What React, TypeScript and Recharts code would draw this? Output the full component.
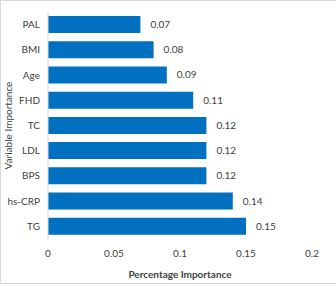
import React from "react";
import { BarChart, Bar, XAxis, YAxis, LabelList, Label } from "recharts";

const categories = ["PAL", "BMI", "Age", "FHD", "TC", "LDL", "BPS", "hs-CRP", "TG"];
const importance = [0.07, 0.08, 0.09, 0.11, 0.12, 0.12, 0.12, 0.14, 0.15];
const xTicks = [0, 0.05, 0.1, 0.15, 0.2];

const data = categories.map((name, i) => ({ name, value: importance[i] }));

const FONT = "Lato, 'Open Sans', sans-serif";
const TXT = "#404040";

export default function App() {
  return (
    <div
      style={{
        position: "absolute",
        left: 0,
        top: 0,
        width: 336,
        height: 284,
        boxSizing: "border-box",
        borderTop: "1px solid #d9d9d9",
        borderLeft: "1px solid #d9d9d9",
        borderBottom: "1px solid #d9d9d9",
        background: "#fff",
        fontFamily: FONT,
      }}
    >
      <BarChart
        width={335}
        height={282}
        data={data}
        layout="vertical"
        margin={{ top: 11, right: 24, bottom: 0, left: 0 }}
        barSize={17}
      >
        <XAxis
          type="number"
          domain={[0, 0.2]}
          ticks={xTicks}
          axisLine={false}
          tickLine={false}
          tickMargin={5}
          height={44}
          tick={{ fontSize: 10, fill: TXT, fontFamily: FONT }}
        >
          <Label
            value="Percentage Importance"
            position="insideBottom"
            offset={5}
            style={{ fontSize: 10, fontWeight: "bold", fill: TXT, fontFamily: FONT }}
          />
        </XAxis>
        <YAxis
          type="category"
          dataKey="name"
          width={47}
          axisLine={{ stroke: "#d9d9d9" }}
          tickLine={false}
          tick={{ fontSize: 10, fill: TXT, fontFamily: FONT }}
        >
          <Label
            content={(props: any) => {
              const vb = props.viewBox || {};
              const cx = (vb.x || 0) + 7;
              const cy = (vb.y || 0) + (vb.height || 0) / 2;
              return (
                <text
                  x={cx}
                  y={cy}
                  transform={`rotate(-90, ${cx}, ${cy})`}
                  textAnchor="middle"
                  dominantBaseline="central"
                  fontSize={10}
                  fill={TXT}
                  fontFamily={FONT}
                >
                  Variable Importance
                </text>
              );
            }}
          />
        </YAxis>
        <Bar dataKey="value" fill="#0070C0" isAnimationActive={false}>
          <LabelList
            dataKey="value"
            position="right"
            offset={10}
            style={{ fontSize: 10, fill: TXT, fontFamily: FONT }}
          />
        </Bar>
      </BarChart>
    </div>
  );
}
